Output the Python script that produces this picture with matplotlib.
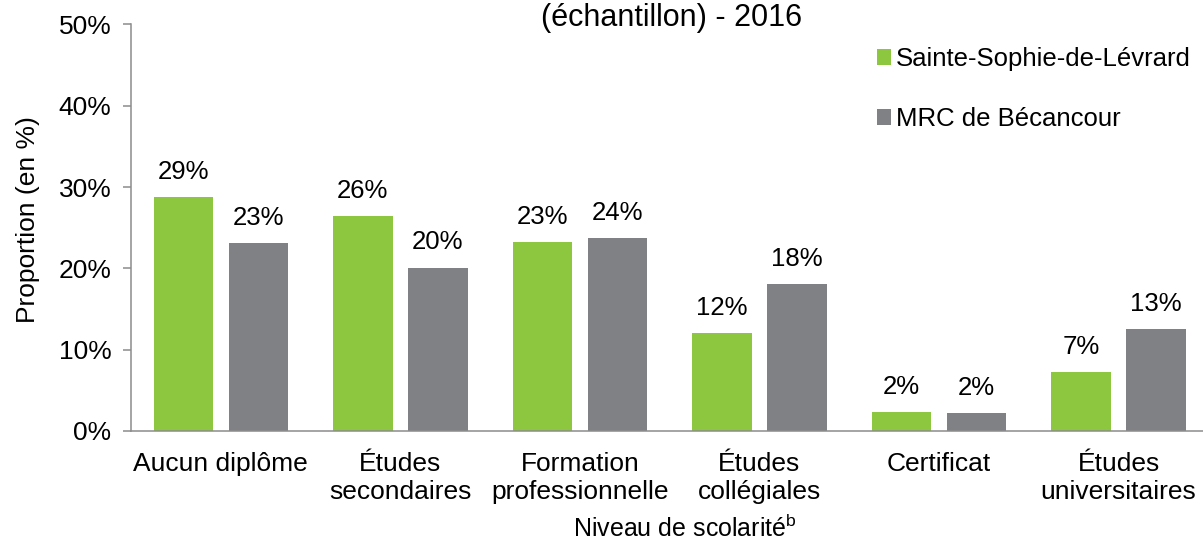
import matplotlib
matplotlib.use("Agg")
import matplotlib.pyplot as plt
import numpy as np

plt.rcParams['font.family'] = ['Liberation Sans', 'DejaVu Sans']
plt.rcParams['mathtext.fontset'] = 'custom'
plt.rcParams['mathtext.rm'] = 'Liberation Sans'
plt.rcParams['mathtext.it'] = 'Liberation Sans'

categories = ["Aucun diplôme", "Études\nsecondaires", "Formation\nprofessionnelle",
              "Études\ncollégiales", "Certificat", "Études\nuniversitaires"]
series_names = ["Sainte-Sophie-de-Lévrard", "MRC de Bécancour"]
sainte_sophie = [28.8, 26.4, 23.2, 12.0, 2.3, 7.2]
mrc_becancour = [23.1, 20.1, 23.7, 18.1, 2.25, 12.5]
yticks = [0, 10, 20, 30, 40, 50]
title_text = "(échantillon) - 2016"
ylabel_text = "Proportion (en %)"
xlabel_text = r"Niveau de scolarité$^{\mathrm{b}}$"

GREEN = "#8DC63F"
GREY = "#808184"
SPINE = "#8C8C8C"
FS = 19

W, H = 1203, 547
fig = plt.figure(figsize=(W / 100, H / 100), dpi=100)
left_px, right_px, top_px, bottom_px = 131, 1203, 24.4, 431
ax = fig.add_axes([left_px / W, (H - bottom_px) / H,
                   (right_px - left_px) / W, (bottom_px - top_px) / H])

x = np.arange(len(categories))
bw = 0.331
off = 0.209
b1 = ax.bar(x - off, sainte_sophie, bw, color=GREEN, label=series_names[0])
b2 = ax.bar(x + off, mrc_becancour, bw, color=GREY, label=series_names[1])

for bars, vals in ((b1, sainte_sophie), (b2, mrc_becancour)):
    for rect, v in zip(bars, vals):
        ax.annotate(f"{int(v + 0.5)}%", (rect.get_x() + rect.get_width() / 2, v),
                    xytext=(0, 13), textcoords="offset points",
                    ha="center", va="baseline", fontsize=18.5, color="black")

ax.set_xlim(-0.5, 5.47)
ax.set_ylim(0, 50)
ax.set_yticks(yticks)
ax.set_yticklabels([f"{t}%" for t in yticks], fontsize=FS)
ax.set_xticks(x)
ax.set_xticklabels(categories, fontsize=FS, linespacing=1.2)
ax.tick_params(axis='x', length=0, pad=15)
ax.tick_params(axis='y', length=6, width=1.1, color=SPINE, pad=8)

for s in ("top", "right"):
    ax.spines[s].set_visible(False)
for s in ("left", "bottom"):
    ax.spines[s].set_color(SPINE)
    ax.spines[s].set_linewidth(1.1)

fig.text(28 / W, (H - 219.5) / H, ylabel_text, rotation=90, ha="center", va="center", fontsize=FS)
fig.text(685 / W, (H - 537) / H, xlabel_text, ha="center", va="baseline", fontsize=18)
fig.text(671.7 / W, (H - 26) / H, title_text, ha="center", va="baseline", fontsize=22)

leg = ax.legend(loc="upper left", bbox_to_anchor=(876.7 / W, (H - 47) / H),
                bbox_transform=fig.transFigure, frameon=False, fontsize=18.5,
                handlelength=0.55, handleheight=0.55, handletextpad=0.2,
                labelspacing=1.4, borderpad=0, borderaxespad=0)

fig.savefig("out.png", dpi=100)
